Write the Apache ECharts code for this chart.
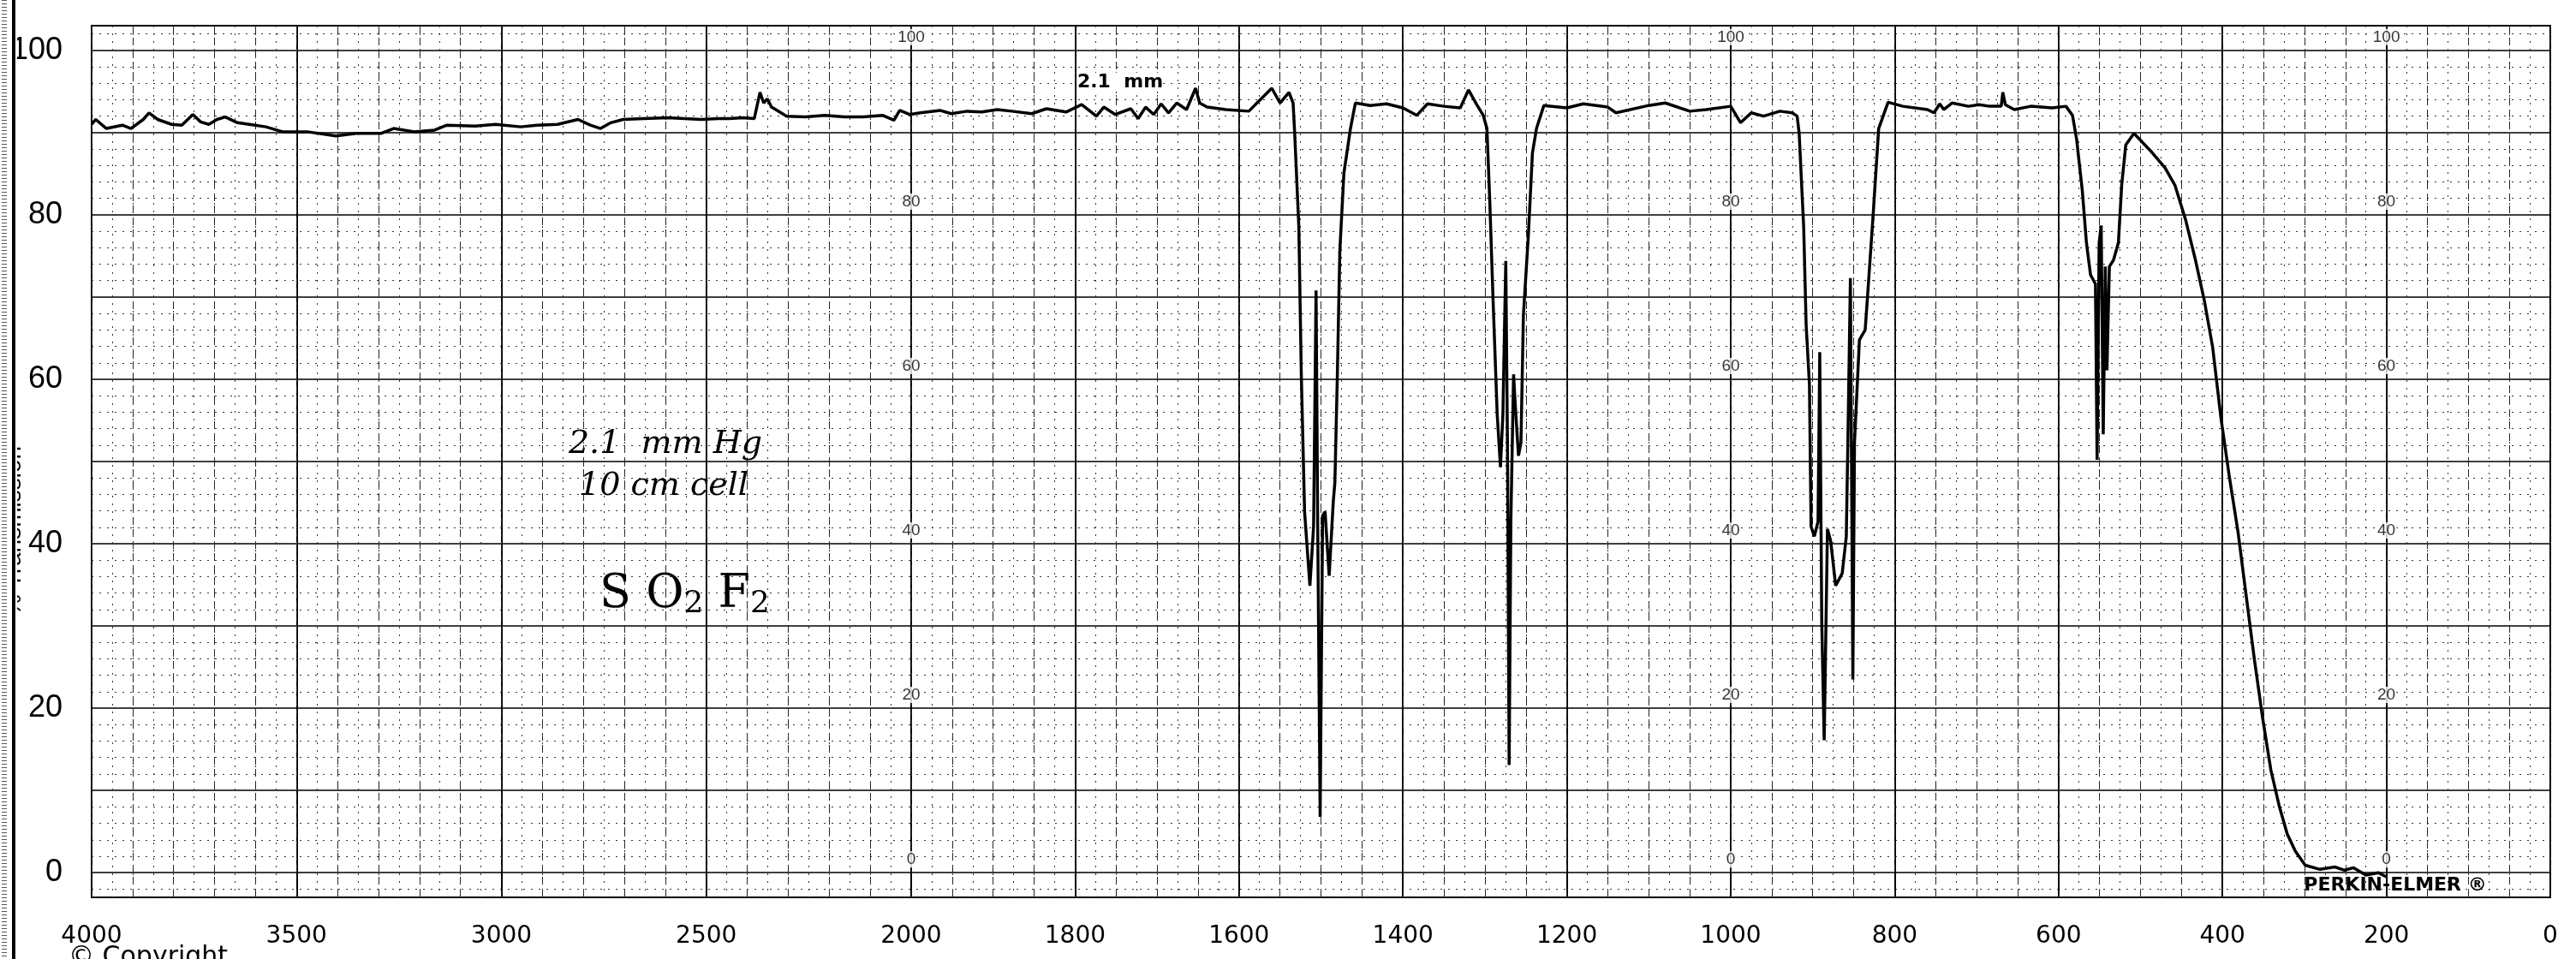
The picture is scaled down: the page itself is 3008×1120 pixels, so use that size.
<!DOCTYPE html>
<html><head><meta charset="utf-8">
<script src="https://cdn.jsdelivr.net/npm/echarts@6/dist/echarts.min.js"></script>
<style>html,body{margin:0;padding:0;background:#fff}#c{width:3008px;height:1120px}</style>
</head><body><div id="c"></div>
<script>
// ---- data: [wavenumber cm-1, % transmittance] ----
const baselineHigh = [[4000,91.0],[3990,91.6],[3964,90.5],[3925,90.9],[3904,90.5],[3874,91.6],[3860,92.4],[3839,91.6],[3805,91.0],[3780,90.9],[3753,92.2],[3734,91.3],[3714,91.0],[3694,91.6],[3674,91.9],[3644,91.2],[3615,91.0],[3575,90.7],[3534,90.1],[3474,90.1],[3404,89.6],[3354,89.9],[3294,89.9],[3263,90.5],[3213,90.1],[3163,90.3],[3133,90.9],[3064,90.8],[3014,91.0],[2953,90.7],[2913,90.9],[2863,91.0],[2813,91.6],[2783,90.9],[2758,90.5],[2733,91.2],[2703,91.6],[2653,91.7],[2593,91.8],[2553,91.7],[2512,91.6],[2472,91.7],[2444,91.7],[2410,91.8],[2383,91.7],[2369,94.9],[2360,93.6],[2351,94.1],[2341,93.1],[2327,92.7],[2304,92.0],[2258,91.9],[2211,92.1],[2163,91.9],[2117,91.9],[2070,92.1],[2042,91.5],[2028,92.7],[2004,92.2],[1989,92.4],[1965,92.7],[1951,92.3],[1932,92.6],[1914,92.5],[1895,92.8],[1877,92.6],[1853,92.3],[1835,92.9],[1811,92.5],[1792,93.4],[1774,92.0],[1765,93.1],[1751,92.2],[1732,92.9],[1723,91.7],[1714,93.1],[1704,92.2],[1695,93.5],[1686,92.4],[1676,93.6],[1664,92.8],[1653,95.4],[1648,93.6],[1639,93.1],[1616,92.8],[1588,92.6],[1576,93.8],[1560,95.4],[1550,93.6],[1539,94.9],[1534,93.6]];
const band1500 = [[1532,89.8],[1527,78.5],[1524,60.6],[1520,43.9],[1513.5,34.9],[1509,42.1],[1506,70.8],[1504,42.7],[1501,6.8],[1498,43.4],[1495,43.9],[1490,36.1],[1485,45.1],[1483,47.5],[1480,60.6],[1477,75.6],[1472,85.1],[1464,90.5],[1458,93.6]];
const baselineMid1 = [[1440,93.3],[1420,93.5],[1400,93.0],[1383,92.1],[1370,93.5],[1350,93.2],[1330,93.0],[1320,95.2],[1310,93.4],[1302,92.1]];
const band1270 = [[1297.5,90.5],[1294,81.6],[1290,69.6],[1285,55.8],[1281,49.3],[1278,55.8],[1274.5,74.4],[1272.4,51.7],[1270.4,13.1],[1268.3,42.7],[1265,60.6],[1263,57.0],[1259,50.7],[1256,52.3],[1253,67.8],[1247,77.4],[1242,87.5],[1237,90.5],[1228,93.3]];
const baselineMid2 = [[1200,93.0],[1180,93.5],[1150,93.1],[1140,92.4],[1100,93.3],[1080,93.6],[1050,92.6],[1030,92.8],[1000,93.2],[988,91.2],[975,92.4],[960,92.0],[940,92.6],[925,92.4],[919,92.0]];
const band880 = [[916.5,89.9],[911,78.5],[908,66.6],[904,59.4],[902,42.1],[898,40.9],[893.5,42.7],[891.4,63.3],[889,30.7],[886,16.1],[882,41.8],[878,40.3],[872,34.9],[864,36.4],[859,40.9],[857,53.0],[854,72.3],[851,23.5],[849,52.3],[843,64.8],[836,66.0],[833,70.2],[826,80.4],[819.5,90.5],[808,93.7]];
const baselineLow = [[790,93.2],[760,92.8],[752,92.4],[745,93.5],[740,92.8],[730,93.6],[710,93.2],[697,93.4],[684,93.2],[670,93.2],[668,94.9],[665,93.4],[654,92.8],[634,93.2],[608,93.0],[591,93.2],[583,92.1]];
const band550 = [[578,89.2],[571,82.9],[566,76.6],[561,72.7],[555,71.6],[553,50.2],[550.5,76.6],[548,78.7],[545.5,53.3],[543,73.7],[541,61.1],[538,73.7],[533,74.5],[527,76.6],[523,83.6],[518,88.5],[508,89.9]];
const cutoff = [[488,87.8],[470,85.7],[458,83.6],[445,79.4],[433,74.5],[422,69.5],[412,63.9],[402,55.4],[392,48.4],[381,41.4],[371,33.6],[361,25.9],[351,18.8],[341,12.5],[331,8.2],[321,4.7],[311,2.6],[299,0.9],[281,0.4],[263,0.7],[251,0.3],[240,0.6],[225,-0.3],[210,0.0],[200,-0.5]];

const xTickLabels = [4000,3500,3000,2500,2000,1800,1600,1400,1200,1000,800,600,400,200,0];
const yTickLabels = [0,20,40,60,80,100];
const paperScaleWn = [2000,1000,200];
const paperScaleT = [0,20,40,60,80,100];

// Perkin-Elmer chart paper: 4000-2000 at half the scale of 2000-0
function toU(w){ return w >= 2000 ? (4000 - w) / 2 : 1000 + (2000 - w); }
function toWn(u){ return u <= 1000 ? 4000 - 2 * u : 2000 - (u - 1000); }

const spectrum = [].concat(baselineHigh, band1500, baselineMid1, band1270, baselineMid2, band880, baselineLow, band550, cutoff)
  .map(p => [toU(p[0]), p[1]]);

const paperLabels = [];
paperScaleWn.forEach(w => paperScaleT.forEach(t => paperLabels.push([toU(w), t])));

const tenLines = []; for (let v = 0; v <= 100; v += 10) tenLines.push(v);
const twoLines = []; for (let v = -2; v <= 102; v += 2) twoLines.push(v);

const chart = echarts.init(document.getElementById('c'), null, {renderer: 'canvas'});
const BLACK = '#000';
chart.setOption({
  animation: false,
  backgroundColor: '#fff',
  grid: {left: 107, right: 30, top: 30, bottom: 72, show: true, borderColor: BLACK, borderWidth: 2, backgroundColor: 'transparent'},
  xAxis: [
    {type: 'value', min: 0, max: 3000, position: 'bottom',
     axisLine: {show: false},
     axisTick: {show: true, length: 21, customValues: xTickLabels.map(toU), lineStyle: {color: BLACK, width: 1.5}},
     axisLabel: {customValues: xTickLabels.map(toU), formatter: v => String(Math.round(toWn(v))), color: BLACK, fontSize: 28, fontFamily: 'DejaVu Sans', margin: 32},
     splitLine: {show: true, lineStyle: {color: BLACK, width: 2}}},
    {type: 'value', min: 0, max: 3000, interval: 50, position: 'bottom',
     axisLine: {show: false}, axisTick: {show: false}, axisLabel: {show: false},
     splitLine: {show: true, lineStyle: {color: '#222', width: 1, type: [9, 5]}}},
    {type: 'value', min: 0, max: 3000, interval: 25, position: 'bottom',
     axisLine: {show: false}, axisTick: {show: false}, axisLabel: {show: false},
     splitLine: {show: true, lineStyle: {color: '#333', width: 1, type: [2, 7]}}}
  ],
  yAxis: [
    {type: 'value', min: -3, max: 103,
     axisLine: {show: false},
     axisTick: {show: false, customValues: tenLines},
     axisLabel: {customValues: yTickLabels, color: BLACK, fontSize: 36, fontFamily: 'Liberation Sans', margin: 34},
     splitLine: {show: true, lineStyle: {color: BLACK, width: 1.6}}},
    {type: 'value', min: -3, max: 103, position: 'left',
     axisLine: {show: false},
     axisTick: {show: false, customValues: twoLines},
     axisLabel: {show: false},
     splitLine: {show: true, lineStyle: {color: '#333', width: 1, type: [2, 7]}}}
  ],
  series: [
    {type: 'line', data: spectrum, showSymbol: false, symbol: 'none', xAxisIndex: 0, yAxisIndex: 0, z: 5,
     lineStyle: {color: BLACK, width: 3.5}, clip: false},
    {type: 'scatter', data: paperLabels, symbolSize: 0, xAxisIndex: 0, yAxisIndex: 0, z: 4, silent: true,
     label: {show: true, position: 'top', distance: 6, formatter: p => String(p.value[1]), color: BLACK, fontSize: 19, fontFamily: 'Liberation Sans',
             backgroundColor: '#fff', padding: [0, 1]}}
  ],
  graphic: [
    {type: 'text', x: 30, y: 620, rotation: Math.PI / 2, z: 1,
     style: {text: '% Transmission', font: '28px "Liberation Sans"', fill: BLACK, textAlign: 'center', textVerticalAlign: 'bottom'}},
    {type: 'rect', shape: {x: 0, y: 0, width: 20, height: 1120}, style: {fill: '#fff'}, z: 2},
    {type: 'line', shape: {x1: 16, y1: 0, x2: 16, y2: 1120}, style: {stroke: BLACK, lineWidth: 4}, z: 3},
    {type: 'line', shape: {x1: 5, y1: 0, x2: 5, y2: 1120}, style: {stroke: '#555', lineWidth: 6, lineDash: [1, 3]}, z: 3},
    {type: 'text', x: 1308, y: 96, z: 10,
     style: {text: '2.1  mm', font: 'bold 22px "DejaVu Sans"', fill: BLACK, textAlign: 'center', textVerticalAlign: 'middle', backgroundColor: '#fff'}},
    {type: 'text', x: 777, y: 519, z: 10,
     style: {text: '2.1  mm Hg', font: 'italic 38px "DejaVu Serif"', fill: BLACK, textAlign: 'center', textVerticalAlign: 'middle'}},
    {type: 'text', x: 775, y: 568, z: 10,
     style: {text: '10 cm cell', font: 'italic 38px "DejaVu Serif"', fill: BLACK, textAlign: 'center', textVerticalAlign: 'middle'}},
    {type: 'text', x: 700, y: 695, z: 10,
     style: {text: '{b|S O}{s|2}{b| F}{s|2}', fill: BLACK, textVerticalAlign: 'middle',
       rich: {b: {font: '54px "DejaVu Serif"', fill: BLACK}, s: {font: '36px "DejaVu Serif"', fill: BLACK, verticalAlign: 'bottom', padding: [22, 0, 0, 0]}}}},
    {type: 'text', x: 2797, y: 1034, z: 10,
     style: {text: 'PERKIN-ELMER ®', font: 'bold 22px "DejaVu Sans"', fill: BLACK, textAlign: 'center', textVerticalAlign: 'middle'}},
    {type: 'text', x: 80, y: 1103, z: 10,
     style: {text: '© Copyright', font: '30px "DejaVu Sans"', fill: BLACK, textAlign: 'left', textVerticalAlign: 'top'}}
  ]
});
</script></body></html>
